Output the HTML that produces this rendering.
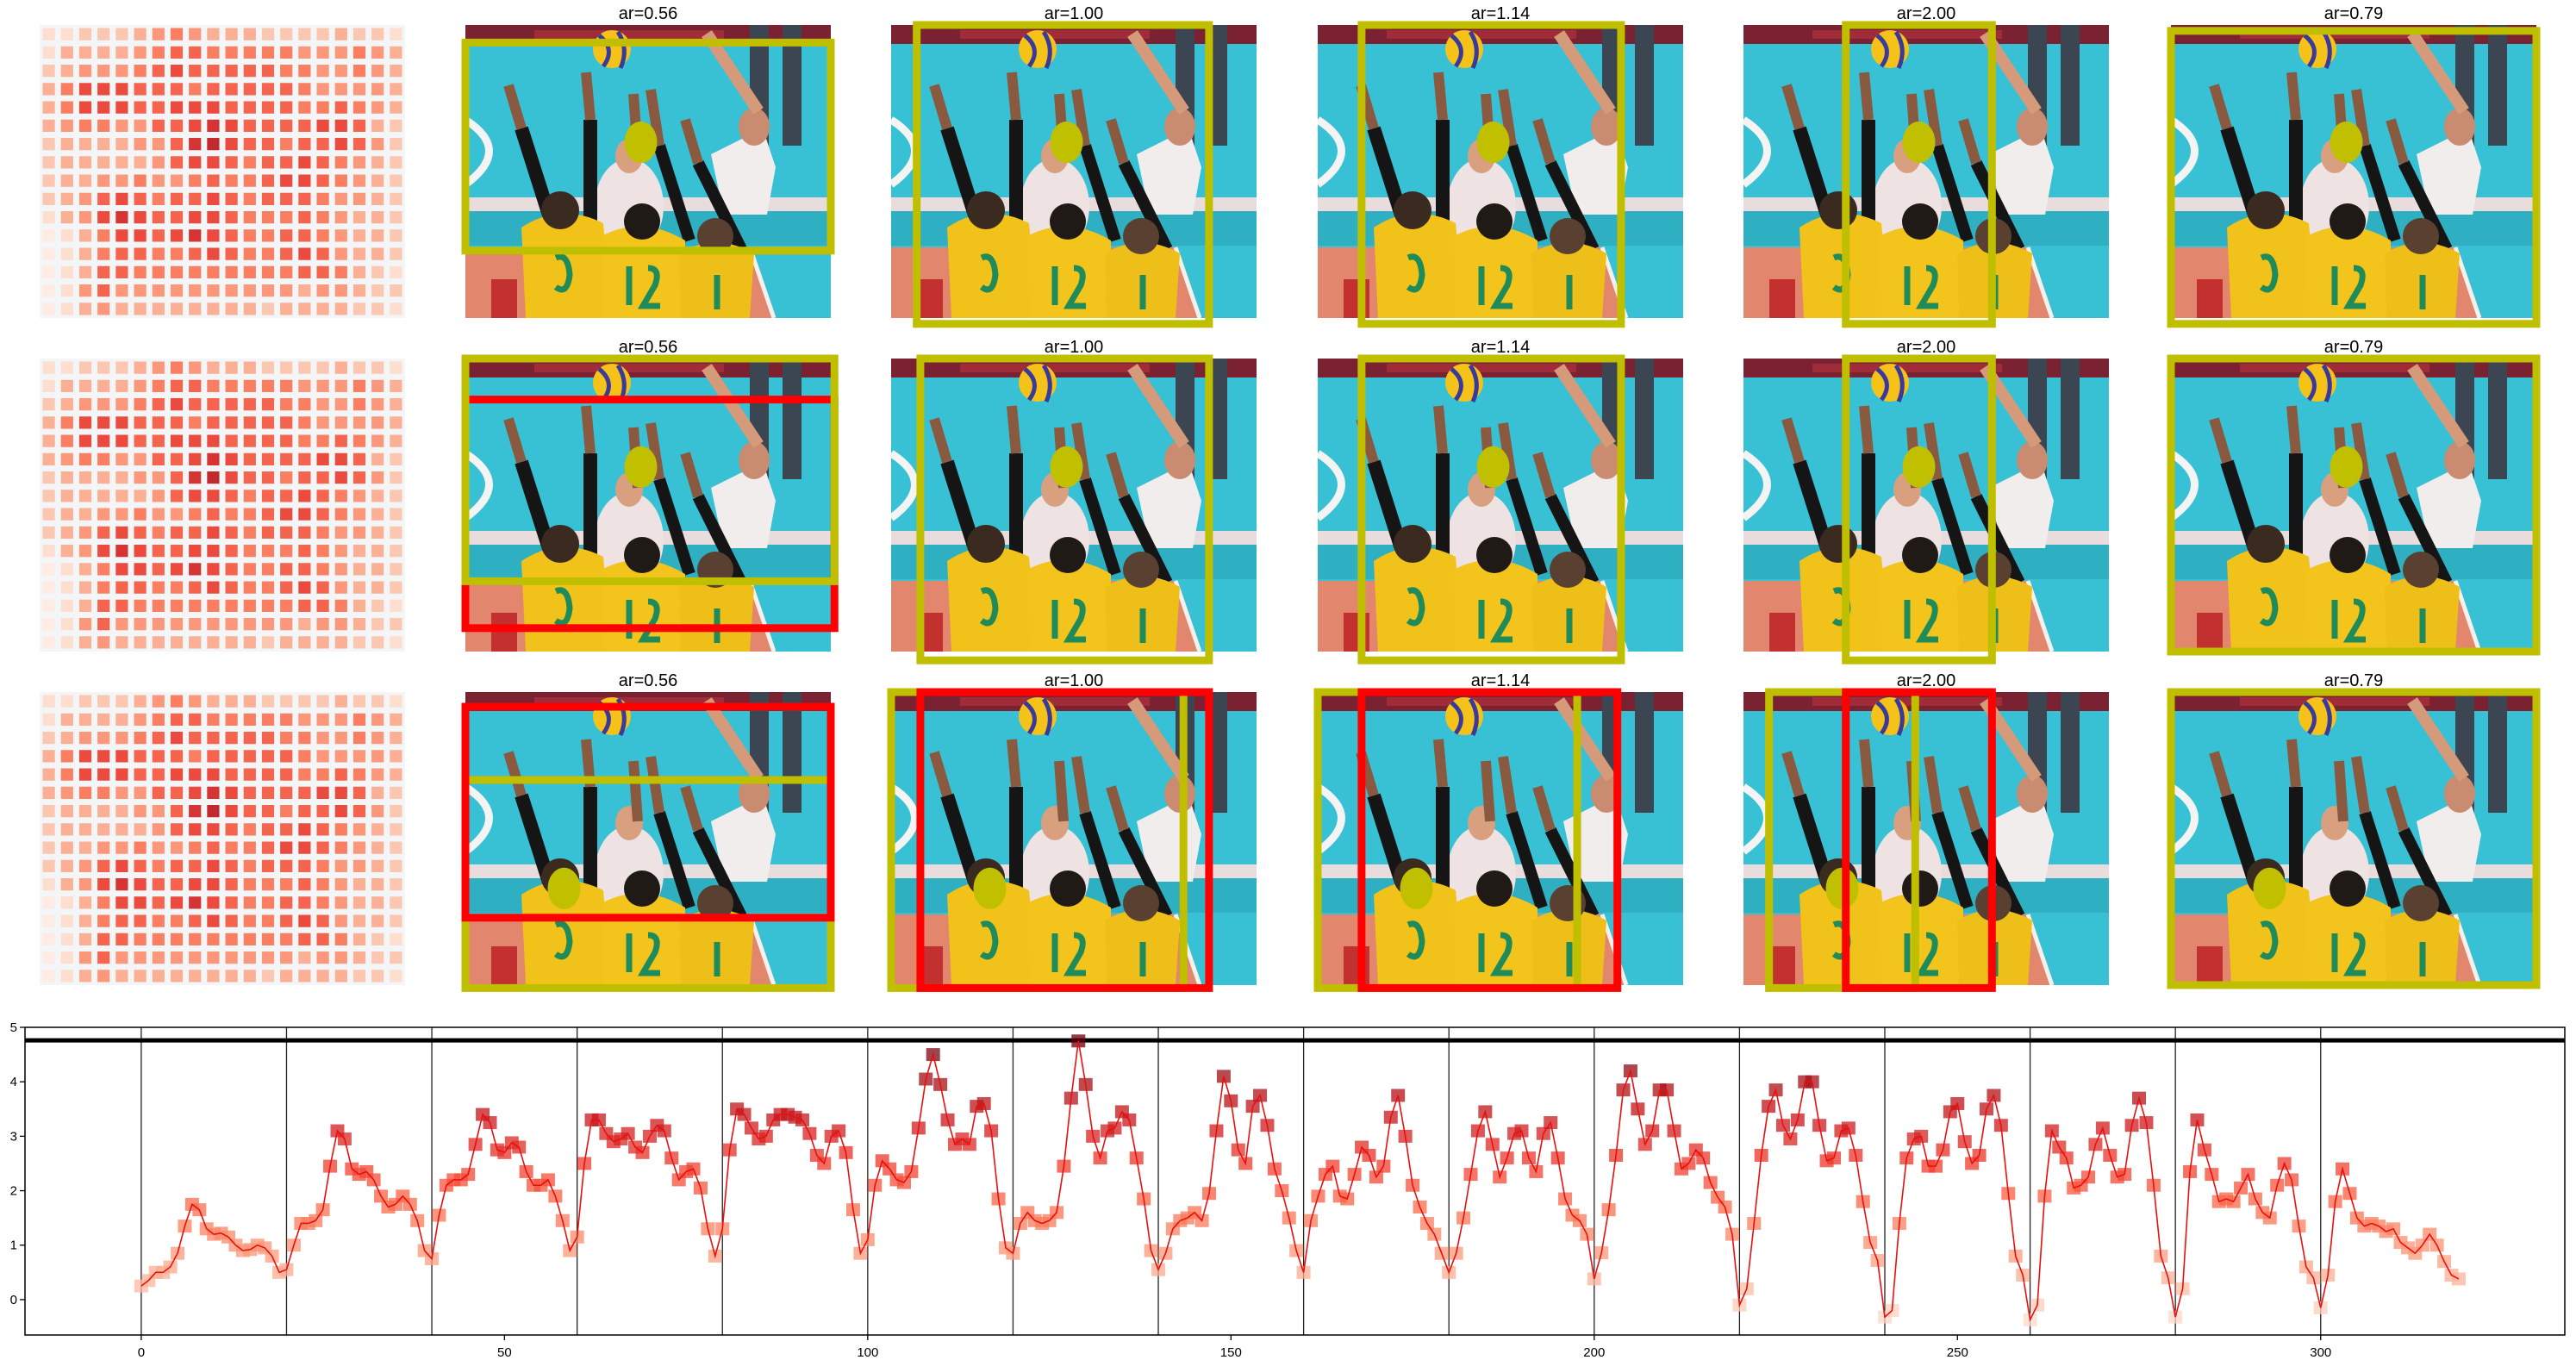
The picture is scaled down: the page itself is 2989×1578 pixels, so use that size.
<!DOCTYPE html>
<html><head><meta charset="utf-8"><style>
html,body{margin:0;padding:0;background:#fff;}
svg{display:block;font-family:"Liberation Sans","DejaVu Sans",sans-serif;}
</style></head><body>
<svg id="fig" width="2989" height="1578" viewBox="0 0 2989 1578" xmlns="http://www.w3.org/2000/svg">
<defs>
<symbol id="photo" viewBox="0 0 424 340" preserveAspectRatio="none">
  <rect x="0" y="0" width="424" height="340" fill="#38c1d4"/>
  <rect x="0" y="0" width="424" height="22" fill="#7a2232"/>
  <rect x="80" y="6" width="220" height="10" fill="#a02c3a"/>
  <path d="M0,110 Q55,145 0,185" fill="none" stroke="#f4f4f4" stroke-width="9"/>
  <rect x="330" y="0" width="22" height="145" fill="#3c4652"/>
  <rect x="368" y="0" width="22" height="140" fill="#3c4652"/>
  <rect x="0" y="200" width="424" height="16" fill="#e9dcdc"/>
  <rect x="0" y="216" width="424" height="40" fill="#2fb0c2"/>
  <polygon points="0,258 330,258 355,340 0,340" fill="#e3866e"/>
  <line x1="330" y1="258" x2="358" y2="340" stroke="#f6f0ea" stroke-width="5"/>
  <ellipse cx="190" cy="210" rx="40" ry="55" fill="#efe2e2"/>
  <ellipse cx="190" cy="152" rx="16" ry="20" fill="#d9a080"/>
  <path d="M300,220 L285,150 L345,120 L360,165 L350,220 Z" fill="#f2eded"/>
  <ellipse cx="335" cy="118" rx="18" ry="22" fill="#c98c70"/>
  <path d="M340,100 L280,10" stroke="#d49a7a" stroke-width="14" fill="none"/>
  <circle cx="170" cy="28" r="22" fill="#f5c21a"/>
  <path d="M155,12 Q175,28 160,48 M177,8 Q190,28 180,50" stroke="#3a3a9a" stroke-width="5" fill="none"/>
  <path d="M100,230 L65,120" stroke="#151515" stroke-width="16" fill="none"/>
  <path d="M145,230 L145,110" stroke="#151515" stroke-width="16" fill="none"/>
  <path d="M260,250 L225,140" stroke="#151515" stroke-width="14" fill="none"/>
  <path d="M320,260 L270,160" stroke="#151515" stroke-width="14" fill="none"/>
  <path d="M65,120 L50,70 M145,110 L140,55 M225,140 L215,75 M270,160 L255,110 M200,150 L195,80" stroke="#8a5a40" stroke-width="12" fill="none"/>
  <path d="M70,340 L65,235 Q110,205 160,230 L170,340 Z" fill="#f0c21a"/>
  <path d="M160,340 L158,245 Q205,220 255,250 L255,340 Z" fill="#f3c51c"/>
  <path d="M250,340 L248,265 Q290,240 335,265 L330,340 Z" fill="#eebf18"/>
  <circle cx="110" cy="215" r="22" fill="#3a2a20"/>
  <circle cx="205" cy="228" r="21" fill="#1f1a16"/>
  <circle cx="290" cy="245" r="21" fill="#5a4030"/>
  <path d="M105,270 q14,-6 16,20 q-3,24 -16,14 M190,280 l0,45 M212,282 q15,0 8,20 l-14,24 l20,0 M292,290 l0,40" stroke="#1f8a5a" stroke-width="7" fill="none"/>
  <rect x="30" y="295" width="30" height="45" fill="#c23030"/>
</symbol>
</defs>
<g id="panels"></g>
<g id="chart"></g>
</svg>
<script>
// ---- bottom chart data ----
const xTicks = [0, 50, 100, 150, 200, 250, 300];
const yTicks = [0, 1, 2, 3, 4, 5];
const refLine = [4.76];
const segBoundaries = [0,20,40,60,80,100,120,140,160,180,200,220,240,260,280,300];
const scores = [
0.25,0.35,0.5,0.5,0.6,0.85,1.35,1.75,1.65,1.3,1.2,1.22,1.15,1.0,0.9,0.92,1.0,0.95,0.8,0.5,
0.55,1.0,1.4,1.4,1.45,1.65,2.45,3.1,2.95,2.4,2.3,2.35,2.2,1.9,1.7,1.75,1.9,1.75,1.45,0.9,
0.75,1.55,2.1,2.2,2.2,2.3,2.85,3.4,3.25,2.75,2.7,2.88,2.8,2.35,2.1,2.1,2.2,1.9,1.45,0.9,
1.15,2.5,3.3,3.3,3.05,2.9,2.95,3.05,2.8,2.7,3.0,3.2,3.1,2.6,2.2,2.35,2.4,2.05,1.3,0.8,
1.3,2.75,3.5,3.4,3.15,2.95,3.0,3.3,3.4,3.4,3.35,3.3,3.05,2.65,2.5,3.0,3.1,2.7,1.65,0.85,
1.1,2.1,2.55,2.4,2.2,2.15,2.35,3.15,4.05,4.5,3.95,3.3,2.85,2.95,2.85,3.55,3.6,3.1,1.85,0.95,
0.85,1.4,1.6,1.45,1.4,1.45,1.6,2.45,3.7,4.75,3.95,3.0,2.6,3.1,3.15,3.45,3.3,2.6,1.85,0.9,
0.55,0.85,1.3,1.45,1.5,1.6,1.45,1.95,3.1,4.1,3.65,2.75,2.5,3.55,3.75,3.2,2.4,2.0,1.5,0.9,
0.5,1.45,1.9,2.3,2.45,1.9,1.85,2.3,2.8,2.65,2.25,2.45,3.35,3.75,3.0,2.1,1.7,1.4,1.2,0.85,
0.5,0.85,1.5,2.3,3.1,3.45,2.85,2.25,2.6,3.05,3.1,2.6,2.35,3.05,3.25,2.6,1.85,1.55,1.45,1.2,
0.38,0.86,1.65,2.65,3.85,4.2,3.5,2.85,3.1,3.85,3.85,3.1,2.4,2.5,2.75,2.6,2.15,1.88,1.7,1.2,
-0.1,0.2,1.4,2.65,3.55,3.85,3.2,2.95,3.3,4.0,4.0,3.2,2.55,2.6,3.1,3.15,2.65,1.8,1.05,0.72,
-0.32,-0.2,1.4,2.6,2.95,3.0,2.45,2.45,2.75,3.45,3.6,2.9,2.5,2.65,3.5,3.75,3.2,1.95,0.8,0.45,
-0.37,-0.1,1.9,3.1,2.8,2.6,2.05,2.1,2.25,2.85,3.15,2.65,2.25,2.3,3.2,3.7,3.25,2.1,0.8,0.4,
-0.32,0.2,2.35,3.3,2.75,2.3,1.8,1.85,1.8,2.05,2.3,1.85,1.6,1.5,2.1,2.5,2.2,1.35,0.6,0.4,
-0.15,0.45,1.8,2.4,1.95,1.5,1.35,1.4,1.35,1.25,1.3,1.05,0.95,0.85,1.0,1.2,1.0,0.7,0.45,0.38
];
// ---- panel data ----
const titles = ["ar=0.56","ar=1.00","ar=1.14","ar=2.00","ar=0.79"];
const heatRows = [
"11222345433322223221","13333456655555444543","23444567666665544543",
"35777666566666544443","35777667776666556543","34554466787666677632",
"23333446897665667642","23333346776566765432","23344544565567765432",
"23467656676566654432","13478766776555654332","01357767876556654332",
"01356655676556764332","01366555555555665321","01464444444444344322",
"01343333333323333221"];

const NS = "http://www.w3.org/2000/svg";
function mk(tag, attrs, parent){const e=document.createElementNS(NS,tag);for(const k in attrs)e.setAttribute(k,attrs[k]);parent.appendChild(e);return e;}
const reds=[[255,245,240],[254,224,210],[252,187,161],[252,146,114],[251,106,74],[239,59,44],[203,24,29],[165,15,21],[103,0,13]];
function redC(t){t=Math.max(0,Math.min(1,t));const p=t*8,i=Math.min(7,Math.floor(p)),f=p-i;const a=reds[i],b=reds[i+1];return `rgb(${Math.round(a[0]+(b[0]-a[0])*f)},${Math.round(a[1]+(b[1]-a[1])*f)},${Math.round(a[2]+(b[2]-a[2])*f)})`;}

// panels
const colX=[46,540,1034,1529,2023,2519], rowY=[29,416,803], PW=424, PH=340;
const Y="#bfbf00", R="#ff0000";
const boxes=[
 [null,[[Y,0,1,0.06,0.77]],[[Y,0.07,0.87,0,1.02]],[[Y,0.12,0.83,0,1.02]],[[Y,0.28,0.68,0,1.02]],[[Y,0,1,0.02,1.02]]],
 [null,[[R,0,1.01,0.14,0.92],[Y,0,1.01,0,0.76]],[[Y,0.08,0.87,0,1.03]],[[Y,0.12,0.83,0,1.03]],[[Y,0.28,0.68,0,1.03]],[[Y,0,1,0,1.0]]],
 [null,[[Y,0,1,0.30,1.01],[R,0,1,0.05,0.77]],[[Y,0,0.8,0,1.01],[R,0.08,0.87,0,1.01]],[[Y,0,0.71,0,1.01],[R,0.12,0.82,0,1.01]],[[Y,0.07,0.47,0,1.01],[R,0.28,0.68,0,1.01]],[[Y,0,1,0,1.0]]]
];
const dots=[[0.48,0.40],[0.48,0.37],[0.27,0.67]];
const pg=document.getElementById('panels');
for(let r=0;r<3;r++){
  const hg=mk('g',{},pg);
  
  
  mk('rect',{x:colX[0],y:rowY[r],width:PW,height:PH,fill:'#f3f5f6'},hg);
  const cw=PW/20, ch=PH/16;
  heatRows.forEach((row,ri)=>{for(let ci=0;ci<20;ci++){const d=+row[ci];
    const c=mk('rect',{x:colX[0]+ci*cw+3.5,y:rowY[r]+ri*ch+3.5,width:cw-7,height:ch-7,fill:redC(0.06+d*0.083),'fill-opacity':0.9},hg);
    
    }});
  for(let c=1;c<6;c++){
    const g=mk('g',{},pg);
    
    
    const x0=colX[c], y0=rowY[r];
    mk('use',{href:'#photo',x:x0,y:y0,width:PW,height:PH},g);
    const t=mk('text',{x:x0+PW/2,y:y0-7,'text-anchor':'middle','font-size':20,fill:'#000'},g);
    t.textContent=titles[c-1];
    
    
    const dt=dots[r];
    const el=mk('ellipse',{cx:x0+dt[0]*PW,cy:y0+dt[1]*PH,rx:19,ry:24,fill:'#c0c000'},g);
    
    
    boxes[r][c].forEach(b=>{
      const bx=mk('rect',{x:x0+b[1]*PW,y:y0+b[3]*PH,width:(b[2]-b[1])*PW,height:(b[4]-b[3])*PH,fill:'none',stroke:b[0],'stroke-width':9},g);
      
      
    });
  }
}

// chart
const cg=document.getElementById('chart');
const L=29,Rt=2976,T=1192,B=1549, xmin=-16, xmax=333.6, ymin=-0.65, ymax=5.0;
const sx=v=>L+(v-xmin)/(xmax-xmin)*(Rt-L);
const sy=v=>B-(v-ymin)/(ymax-ymin)*(B-T);
segBoundaries.forEach(b=>{const l=mk('line',{x1:sx(b),x2:sx(b),y1:T,y2:B,stroke:'#222','stroke-width':1.3},cg);
  
  });
const hl=mk('line',{x1:L,x2:Rt,y1:sy(refLine[0]),y2:sy(refLine[0]),stroke:'#000','stroke-width':5},cg);


const vmin=Math.min(...scores), vmax=Math.max(...scores);
scores.forEach((v,i)=>{const t=(v-vmin)/(vmax-vmin);
  const m=mk('rect',{x:sx(i)-8,y:sy(v)-7.5,width:16,height:15,fill:redC(0.15+t*0.85),'fill-opacity':0.75},cg);
  
  });
const pl=mk('polyline',{points:scores.map((v,i)=>sx(i)+','+sy(v)).join(' '),fill:'none',stroke:'#e8100e','stroke-width':1.6},cg);


const fr=mk('rect',{x:L,y:T,width:Rt-L,height:B-T,fill:'none',stroke:'#000','stroke-width':1.5},cg);


xTicks.forEach(v=>{mk('line',{x1:sx(v),x2:sx(v),y1:B,y2:B+6,stroke:'#000','stroke-width':1.3},cg);
  const t=mk('text',{x:sx(v),y:B+25,'text-anchor':'middle','font-size':15,fill:'#000'},cg);t.textContent=v;
  
  });
yTicks.forEach(v=>{mk('line',{x1:L-6,x2:L,y1:sy(v),y2:sy(v),stroke:'#000','stroke-width':1.3},cg);
  const t=mk('text',{x:L-9,y:sy(v)+5,'text-anchor':'end','font-size':15,fill:'#000'},cg);t.textContent=v;
  
  });
</script>
</body></html>
